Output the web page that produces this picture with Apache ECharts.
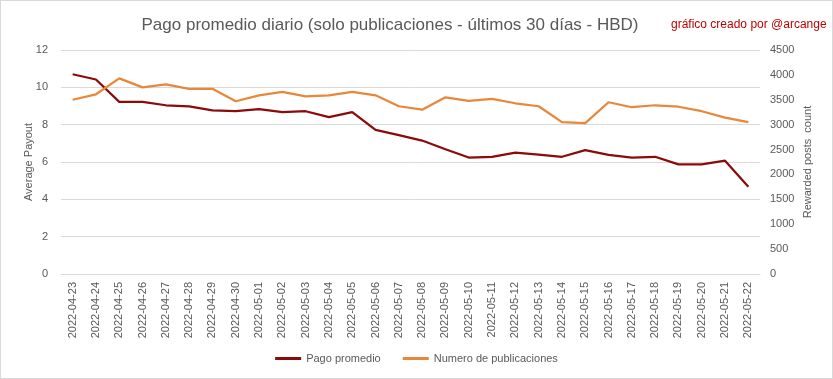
<!DOCTYPE html>
<html><head><meta charset="utf-8">
<script src="https://cdn.jsdelivr.net/npm/echarts@6/dist/echarts.min.js"></script>
<style>html,body{margin:0;padding:0;background:#fff}#c{width:833px;height:379px;box-sizing:border-box;border:1px solid #d9d9d9}</style>
</head><body><div id="c"></div>
<script>
const categories = ["2022-04-23","2022-04-24","2022-04-25","2022-04-26","2022-04-27","2022-04-28","2022-04-29","2022-04-30","2022-05-01","2022-05-02","2022-05-03","2022-05-04","2022-05-05","2022-05-06","2022-05-07","2022-05-08","2022-05-09","2022-05-10","2022-05-11","2022-05-12","2022-05-13","2022-05-14","2022-05-15","2022-05-16","2022-05-17","2022-05-18","2022-05-19","2022-05-20","2022-05-21","2022-05-22"];
const pagoPromedio = [10.7,10.42,9.22,9.22,9.04,8.98,8.77,8.72,8.83,8.67,8.72,8.4,8.67,7.72,7.44,7.15,6.68,6.24,6.28,6.5,6.39,6.28,6.64,6.38,6.24,6.28,5.87,5.87,6.07,4.68];
const numeroPublicaciones = [3500,3610,3930,3750,3810,3720,3720,3470,3590,3660,3570,3590,3660,3590,3370,3300,3550,3480,3520,3430,3370,3050,3030,3450,3350,3390,3360,3270,3140,3050];
const leftTicks = {min:0,max:12,interval:2};
const rightTicks = {min:0,max:4500,interval:500};

const FONT = "'Liberation Sans', sans-serif";
const chart = echarts.init(document.getElementById('c'), null, {renderer:'canvas'});
chart.setOption({
  animation:false,
  textStyle:{fontFamily:FONT},
  title:[
    {text:'Pago promedio diario (solo publicaciones - últimos 30 días - HBD)',left:384,textAlign:'center',top:11,
     textStyle:{fontFamily:FONT,fontSize:17,fontWeight:'normal',color:'#595959'}},
    {text:'gráfico creado por @arcange',left:665,top:13,
     textStyle:{fontFamily:FONT,fontSize:12,fontWeight:'normal',color:'#C00000'}}
  ],
  legend:{bottom:9,left:'center',itemWidth:26,itemHeight:3,itemGap:22,icon:'rect',
    textStyle:{fontFamily:FONT,fontSize:11,color:'#595959'},
    data:['Pago promedio','Numero de publicaciones']},
  grid:{left:60,right:72,top:49,bottom:104},
  xAxis:{type:'category',data:categories,boundaryGap:true,
    axisLine:{lineStyle:{color:'#d9d9d9'}},axisTick:{show:false},
    axisLabel:{rotate:90,interval:0,fontSize:11,color:'#595959',fontFamily:FONT,margin:8}},
  yAxis:[
    {type:'value',min:leftTicks.min,max:leftTicks.max,interval:leftTicks.interval,
     name:'Average Payout',nameLocation:'middle',nameGap:27,nameRotate:90,nameMoveOverlap:false,
     nameTextStyle:{fontSize:11,color:'#595959',fontFamily:FONT},
     axisLine:{show:false},axisTick:{show:false},
     axisLabel:{fontSize:11,color:'#595959',margin:13},
     splitLine:{lineStyle:{color:'#d9d9d9'}}},
    {type:'value',min:rightTicks.min,max:rightTicks.max,interval:rightTicks.interval,
     name:'Rewarded posts  count',nameLocation:'middle',nameGap:42,nameRotate:90,nameMoveOverlap:false,
     nameTextStyle:{fontSize:11,color:'#595959',fontFamily:FONT},
     axisLine:{show:false},axisTick:{show:false},
     axisLabel:{fontSize:11,color:'#595959',margin:10,formatter:function(v){return String(v);}},
     splitLine:{show:false}}
  ],
  series:[
    {name:'Pago promedio',type:'line',yAxisIndex:0,data:pagoPromedio,showSymbol:false,
     lineStyle:{color:'#8B0A0A',width:2.25},itemStyle:{color:'#8B0A0A'}},
    {name:'Numero de publicaciones',type:'line',yAxisIndex:1,data:numeroPublicaciones,showSymbol:false,
     lineStyle:{color:'#E8873A',width:2.25},itemStyle:{color:'#E8873A'}}
  ]
});
</script></body></html>
